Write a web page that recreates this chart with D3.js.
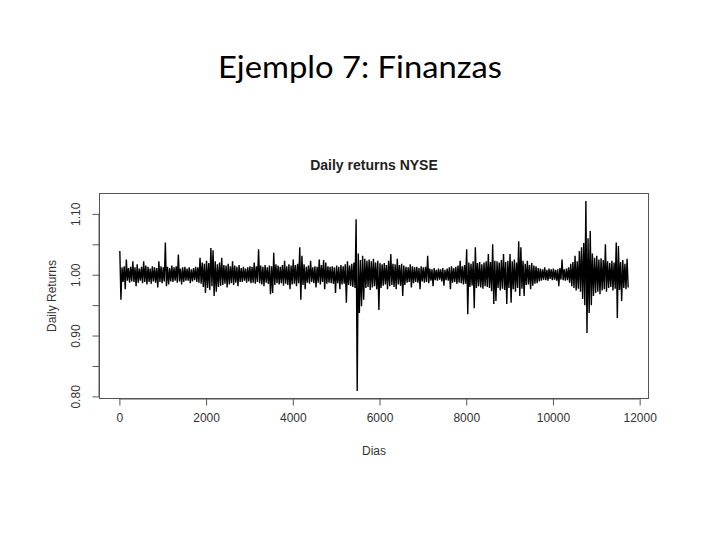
<!DOCTYPE html>
<html>
<head>
<meta charset="utf-8">
<script src="https://cdn.jsdelivr.net/npm/d3@7"></script>
<style>
  html, body { margin: 0; padding: 0; background: #fff; }
  svg { display: block; }
</style>
</head>
<body>
<svg id="chart" width="720" height="540"></svg>
<script>
// ---- Data ----
const slideTitle = "Ejemplo 7: Finanzas";
const chartTitle = "Daily returns NYSE";
const xLabel = "Dias";
const yLabel = "Daily Returns";

// days per bin; each bin holds the highest and lowest daily return (in %) seen in it
const binDays = 50;
const upperPct = [
  3.9, 1.2, 1.4, 2.5, 1.1, 1.3, 2.2,
  1.2, 1.7, 1.0, 1.3, 2.2, 1.5,
  1.3, 1.0, 1.4, 1.2, 1.1, 2.2, 1.4, 1.2, 5.3,
  1.3, 1.1, 1.5, 1.2, 1.4, 3.3, 1.0, 1.2, 1.3,
  1.0, 1.2, 0.9, 1.1, 1.3, 1.2, 2.8,
  2.0, 1.8, 2.3, 1.9, 4.4, 4.0, 2.2, 1.7, 2.0,
  2.8, 1.6, 1.5, 1.8, 1.4, 2.2, 1.5, 1.3, 1.6,
  1.1, 1.3, 1.0, 1.2, 1.4,
  1.3, 2.0, 1.4, 4.2, 1.5, 1.3, 1.6, 1.2, 1.5, 1.4, 3.6, 1.7,
  1.5, 1.3, 1.6, 2.3, 1.4, 1.7, 1.5, 2.5, 1.6, 1.8, 4.5, 3.1, 1.7,
  1.3, 1.5, 2.3, 1.2, 1.4, 1.3, 2.5, 1.6, 2.4, 2.0, 1.4, 1.3,
  1.4, 1.2, 1.5, 1.3, 1.6, 1.4, 1.7, 2.2, 1.5, 1.8, 2.0,
  9.1, 3.5,
  2.4, 3.1, 2.6, 2.3, 2.5,
  2.2, 2.6, 2.0, 2.3, 1.9,
  1.7, 1.9, 1.6, 2.3, 3.4, 1.8, 1.7, 2.6, 1.6, 1.8, 1.5,
  1.3, 1.2, 1.7, 1.4, 1.2, 1.3, 1.1, 1.4, 1.2, 1.3, 3.1,
  1.0, 0.9, 1.1, 0.8, 1.0, 0.9, 1.1, 0.8, 1.0,
  1.2, 1.4, 1.1, 1.3, 1.5, 2.3, 1.4, 1.6, 4.2,
  2.0, 1.8, 2.2, 4.5, 1.9, 2.1, 1.7, 2.0, 2.2, 3.4,
  2.1, 5.0, 2.3,
  2.2, 2.0, 2.4, 3.4, 2.1, 2.3, 3.4, 2.2, 2.5, 2.0, 5.5, 4.5, 2.3,
  1.8, 2.3, 1.6, 1.9, 1.5, 1.4,
  1.1, 1.0, 0.9, 1.2, 0.8, 1.0, 0.9, 1.0, 0.8, 0.9, 1.1, 2.5, 0.9, 1.0, 1.2,
  1.8, 2.1, 3.1, 2.2, 3.9,
  4.5, 5.2, 12.1, 6.0,
  7.2, 3.5, 2.8, 3.1, 2.5, 2.7,
  2.4, 5.0, 2.2, 1.9, 2.3, 2.0, 5.3, 4.7, 2.1, 2.4, 1.8, 2.6
];
const lowerPct = [
  -4.1, -1.2, -2.4, -1.0, -1.3, -1.1, -1.2,
  -1.9, -1.3, -1.0, -1.4, -1.2, -1.6,
  -1.2, -1.5, -1.1, -1.3, -2.1, -1.2, -1.4, -1.1, -1.9,
  -1.6, -1.1, -1.2, -1.0, -1.3, -1.1, -1.6, -1.2, -1.0,
  -1.0, -1.4, -1.1, -0.9, -1.2, -1.3, -1.5,
  -2.0, -3.0, -2.2, -2.5, -1.9, -3.5, -2.8, -2.0, -1.8,
  -1.7, -1.5, -2.1, -1.6, -1.4, -1.7, -1.3, -1.9, -1.2,
  -1.2, -1.0, -1.3, -1.1, -1.4,
  -1.3, -1.5, -1.2, -1.4, -1.6, -1.9, -1.3, -1.5, -3.2, -3.0, -1.7, -1.4,
  -1.6, -1.4, -1.8, -1.5, -1.7, -2.4, -1.6, -1.5, -1.9, -1.4, -4.1, -1.7, -2.4,
  -1.3, -1.5, -1.2, -1.4, -2.1, -1.3, -1.6, -1.2, -2.4, -1.5, -1.3, -1.4,
  -1.5, -3.0, -1.4, -2.4, -1.6, -1.5, -4.6, -1.7, -1.8, -2.0, -2.2,
  -19.1, -6.3,
  -5.2, -4.1, -2.2, -2.0, -2.5,
  -2.1, -1.9, -2.4, -5.8, -2.2,
  -1.8, -1.6, -2.4, -1.9, -1.7, -2.0, -2.4, -1.6, -1.8, -3.5, -1.7,
  -1.3, -1.2, -2.1, -1.4, -1.2, -1.3, -2.4, -1.1, -1.3, -1.2, -1.4,
  -1.0, -1.9, -0.9, -1.0, -0.8, -1.1, -1.8, -0.9, -1.0,
  -2.4, -1.3, -1.2, -1.5, -1.3, -1.4, -1.6, -1.5, -6.5,
  -2.0, -1.8, -5.5, -2.2, -1.9, -2.1, -2.3, -1.9, -2.0, -2.2,
  -2.7, -4.8, -4.3,
  -2.2, -2.6, -2.3, -2.5, -4.8, -2.2, -4.6, -2.4, -2.8, -2.2, -3.5, -2.3, -3.5,
  -1.7, -1.6, -2.4, -1.8, -1.5, -1.4,
  -1.1, -1.0, -0.8, -0.9, -1.0, -0.7, -0.9, -0.8, -1.0, -1.9, -0.8, -0.9, -1.0, -0.9, -1.3,
  -1.9, -2.2, -2.6, -2.3, -2.8,
  -4.0, -5.0, -9.6, -6.3,
  -5.0, -3.5, -3.0, -2.8, -3.2, -2.6,
  -2.4, -2.8, -2.2, -2.0, -2.6, -2.3, -7.1, -2.5, -4.3, -2.2, -2.4, -2.1
];

const xTicks = [0, 2000, 4000, 6000, 8000, 10000, 12000];
const yTicks = [0.80, 0.85, 0.90, 0.95, 1.00, 1.05, 1.10];
const yTickLabels = [0.80, 0.90, 1.00, 1.10];

// ---- Build the series (one high and one low point per bin) ----
const series = [];
upperPct.forEach((u, i) => {
  series.push({ day: i * binDays + 10, value: 1 + u / 100 });
  series.push({ day: i * binDays + 35, value: 1 + lowerPct[i] / 100 });
});

// ---- Layout ----
const svg = d3.select("#chart");
const box = { left: 99.5, right: 648.5, top: 193.5, bottom: 398.5 };

const xExt = d3.extent(series, d => d.day);
const xPad = 0.04 * (xExt[1] - xExt[0]);
const x = d3.scaleLinear().domain([xExt[0] - xPad, xExt[1] + xPad]).range([box.left, box.right]);

const yExt = d3.extent(series, d => d.value);
const yPad = 0.04 * (yExt[1] - yExt[0]);
const y = d3.scaleLinear().domain([yExt[0] - yPad, yExt[1] + yPad]).range([box.bottom, box.top]);

// slide title
svg.append("text")
  .attr("x", 360).attr("y", 78)
  .attr("text-anchor", "middle")
  .attr("font-family", "Lato, 'Open Sans', sans-serif")
  .attr("font-size", 30)
  .attr("fill", "#000")
  .attr("textLength", 284)
  .attr("lengthAdjust", "spacingAndGlyphs")
  .text(slideTitle);

// chart title
svg.append("text")
  .attr("x", (box.left + box.right) / 2).attr("y", 170)
  .attr("text-anchor", "middle")
  .attr("font-family", "'Liberation Sans', Arial, sans-serif")
  .attr("font-weight", "bold")
  .attr("font-size", 14)
  .attr("fill", "#222")
  .text(chartTitle);

// data line
const line = d3.line().x(d => x(d.day)).y(d => y(d.value));
svg.append("path")
  .datum(series)
  .attr("d", line)
  .attr("fill", "none")
  .attr("stroke", "#000")
  .attr("stroke-width", 1.4)
  .attr("stroke-linejoin", "bevel");

// plot box
svg.append("rect")
  .attr("x", box.left).attr("y", box.top)
  .attr("width", box.right - box.left).attr("height", box.bottom - box.top)
  .attr("fill", "none").attr("stroke", "#555").attr("stroke-width", 1);

// x axis
const xAxis = d3.axisBottom(x).tickValues(xTicks).tickSize(6.5).tickPadding(8).tickFormat(d3.format("d"));
const gx = svg.append("g").attr("transform", `translate(0,${box.bottom + 0.5})`).call(xAxis);
gx.select(".domain").attr("d", `M${x(xTicks[0])},0H${x(xTicks[xTicks.length - 1])}`).attr("stroke", "#555");
gx.selectAll(".tick line").attr("stroke", "#555");
gx.selectAll(".tick text")
  .attr("font-family", "'Liberation Sans', Arial, sans-serif")
  .attr("font-size", 12).attr("fill", "#333");

// y axis
const fmt = d3.format(".2f");
const yAxis = d3.axisLeft(y).tickValues(yTicks).tickSize(6.5).tickPadding(9)
  .tickFormat(d => yTickLabels.some(v => Math.abs(v - d) < 1e-9) ? fmt(d) : "");
const gy = svg.append("g").attr("transform", `translate(${box.left - 0.5},0)`).call(yAxis);
gy.select(".domain").attr("d", `M0,${y(yTicks[0])}V${y(yTicks[yTicks.length - 1])}`).attr("stroke", "#555");
gy.selectAll(".tick line").attr("stroke", "#555");
gy.selectAll(".tick text")
  .attr("font-family", "'Liberation Sans', Arial, sans-serif")
  .attr("font-size", 12).attr("fill", "#333")
  .attr("text-anchor", "middle")
  .attr("dy", 0)
  .attr("x", 0)
  .attr("transform", "translate(-19,0) rotate(-90)");

// axis titles
svg.append("text")
  .attr("x", (box.left + box.right) / 2).attr("y", 455)
  .attr("text-anchor", "middle")
  .attr("font-family", "'Liberation Sans', Arial, sans-serif")
  .attr("font-size", 12).attr("fill", "#333")
  .text(xLabel);

svg.append("text")
  .attr("transform", `translate(56,${(box.top + box.bottom) / 2}) rotate(-90)`)
  .attr("text-anchor", "middle")
  .attr("font-family", "'Liberation Sans', Arial, sans-serif")
  .attr("font-size", 12).attr("fill", "#333")
  .text(yLabel);
</script>
</body>
</html>
